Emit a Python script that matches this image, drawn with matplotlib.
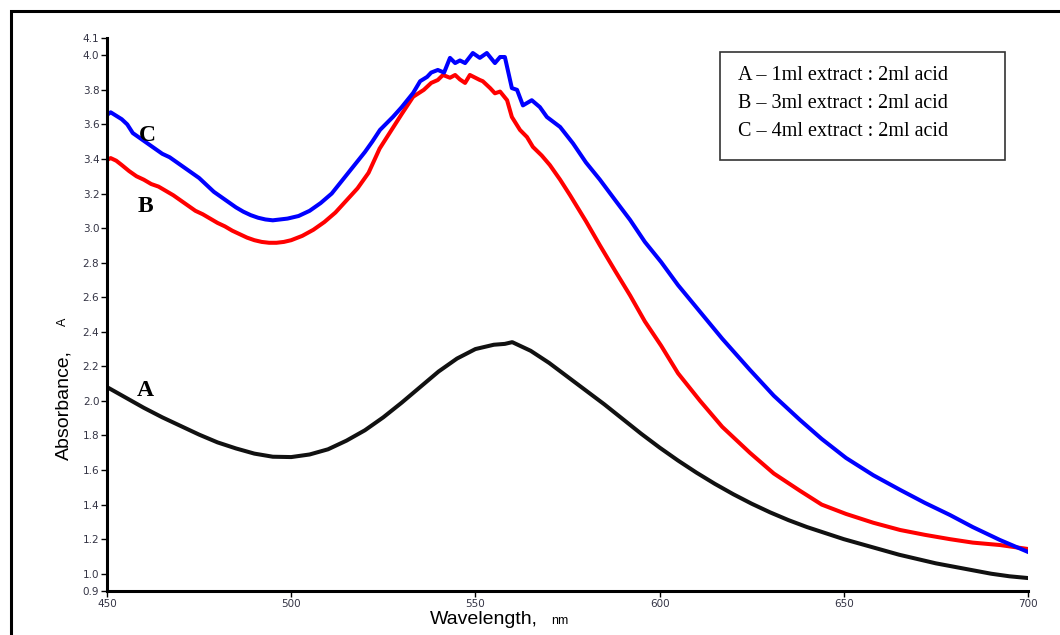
import matplotlib
matplotlib.use("Agg")
import matplotlib.pyplot as plt
from matplotlib.patches import Rectangle

# ---- data (wavelength nm, absorbance) ----
wl_a = [450, 455, 460, 465, 470, 475, 480, 485, 490, 495, 500, 505, 510, 515,
        520, 525, 530, 535, 540, 545, 550, 555, 558, 560, 565, 570, 575, 580,
        585, 590, 595, 600, 605, 610, 615, 620, 625, 630, 635, 640, 645, 650,
        655, 660, 665, 670, 675, 680, 685, 690, 695, 700]
abs_a = [2.08, 2.02, 1.96, 1.905, 1.855, 1.805, 1.76, 1.725, 1.695, 1.677, 1.675,
         1.69, 1.72, 1.77, 1.83, 1.905, 1.99, 2.08, 2.17, 2.245, 2.30, 2.325,
         2.33, 2.34, 2.29, 2.22, 2.14, 2.06, 1.98, 1.895, 1.81, 1.73, 1.655,
         1.585, 1.52, 1.46, 1.405, 1.355, 1.31, 1.27, 1.235, 1.20, 1.17, 1.14,
         1.11, 1.085, 1.06, 1.04, 1.02, 1.0, 0.985, 0.975]

wl_b = [450, 451, 452.5, 454, 456, 458, 460, 462, 464, 466, 468, 470, 472, 474,
        476, 478, 480, 482, 484, 486, 488, 490, 492, 494, 496, 498, 500, 503,
        506, 509, 512, 515, 518, 521, 524, 527, 530, 533.1, 536, 538, 539.8,
        541.2, 543.1, 544.5, 545.8, 547.2, 548.5, 551.2, 552, 554, 555.3, 556.7,
        558.6, 559.9, 562.1, 564, 565.6, 568, 570.2, 573, 575.7, 580, 583.8,
        588, 592, 596, 600.4, 605, 611, 617, 624.5, 631, 638.1, 644, 650.6,
        658, 665.3, 672, 678.8, 685, 692.4, 700]
abs_b = [3.394, 3.405, 3.39, 3.365, 3.33, 3.30, 3.28, 3.255, 3.24, 3.215, 3.19,
         3.16, 3.13, 3.10, 3.08, 3.055, 3.03, 3.01, 2.985, 2.965, 2.945, 2.93,
         2.92, 2.915, 2.915, 2.92, 2.93, 2.955, 2.99, 3.035, 3.09, 3.16, 3.23,
         3.32, 3.46, 3.56, 3.66, 3.76, 3.80, 3.84, 3.857, 3.886, 3.87, 3.886,
         3.86, 3.84, 3.886, 3.857, 3.85, 3.81, 3.78, 3.79, 3.74, 3.643, 3.568,
         3.527, 3.47, 3.42, 3.365, 3.28, 3.19, 3.04, 2.90, 2.75, 2.61, 2.46,
         2.32, 2.16, 2.0, 1.85, 1.70, 1.58, 1.48, 1.40, 1.346, 1.295, 1.253,
         1.225, 1.20, 1.18, 1.166, 1.143]

wl_c = [450, 451, 452.5, 454, 455.5, 457, 459, 461, 463, 465, 467, 469, 471,
        473, 475, 477, 479, 481, 483, 485, 487, 489, 491, 493, 495, 497, 499,
        502, 505, 508, 511, 514, 517, 520, 522, 524.1, 527.6, 530, 533.1, 535,
        536.9, 538, 539.8, 541.5, 543.1, 544.5, 545.8, 547.2, 549.3, 551.2,
        553.1, 555.3, 556.7, 558.0, 559.9, 561.3, 562.9, 565.3, 567.5, 569.4,
        573.0, 576.5, 580, 583.8, 588, 592, 596, 600.4, 605, 611, 617, 624.5,
        631, 638.1, 644, 650.6, 658, 665.3, 672, 678.8, 685, 692.4, 700]
abs_c = [3.655, 3.67, 3.65, 3.63, 3.60, 3.55, 3.52, 3.49, 3.46, 3.43, 3.41,
         3.38, 3.35, 3.32, 3.29, 3.25, 3.21, 3.18, 3.15, 3.12, 3.095, 3.075,
         3.06, 3.05, 3.045, 3.05, 3.055, 3.07, 3.10, 3.145, 3.20, 3.28, 3.36,
         3.44, 3.50, 3.568, 3.643, 3.70, 3.782, 3.85, 3.875, 3.90, 3.915, 3.90,
         3.985, 3.955, 3.97, 3.955, 4.013, 3.985, 4.013, 3.955, 3.99, 3.99, 3.81,
         3.80, 3.71, 3.74, 3.70, 3.643, 3.585, 3.49, 3.38, 3.28, 3.16, 3.047,
         2.92, 2.804, 2.67, 2.515, 2.36, 2.18, 2.03, 1.89, 1.78, 1.67, 1.57,
         1.485, 1.41, 1.34, 1.27, 1.195, 1.126]

legend_lines = ["A \u2013 1ml extract : 2ml acid",
                "B \u2013 3ml extract : 2ml acid",
                "C \u2013 4ml extract : 2ml acid"]
yticks = [0.9, 1.0, 1.2, 1.4, 1.6, 1.8, 2.0, 2.2, 2.4, 2.6, 2.8, 3.0,
          3.2, 3.4, 3.6, 3.8, 4.0, 4.1]
xticks = [450, 500, 550, 600, 650, 700]

W, H = 1060, 635
fig = plt.figure(figsize=(W / 100, H / 100), dpi=100)
ax = fig.add_axes([107 / W, 1 - 591 / H, (1028 - 107) / W, (591 - 38) / H])

ax.plot(wl_a, abs_a, color="#111111", lw=2.9, solid_joinstyle="round")
ax.plot(wl_b, abs_b, color="#ff0000", lw=2.9, solid_joinstyle="round")
ax.plot(wl_c, abs_c, color="#0000ff", lw=2.9, solid_joinstyle="round")

ax.set_xlim(450, 700)
ax.set_ylim(0.9, 4.1)
ax.set_xticks(xticks)
ax.set_yticks(yticks)
ax.set_yticklabels([f"{v:.1f}" for v in yticks])
for s in ["top", "right"]:
    ax.spines[s].set_visible(False)
for s in ["left", "bottom"]:
    ax.spines[s].set_linewidth(2.2)
ax.tick_params(axis="both", labelsize=7.5, labelcolor="#333344",
               length=4, width=1, pad=1.5)

# curve labels
for txt, (x, y) in zip(["C", "B", "A"], [(147, 135), (145, 207), (145, 390)]):
    fig.text(x / W, 1 - y / H, txt, ha="center", va="center",
             family="Liberation Serif", weight="bold", fontsize=17)

# axis labels
fig.text(430 / W, 1 - 624 / H, "Wavelength,", family="Liberation Sans",
         fontsize=14, ha="left", va="baseline")
fig.text(551 / W, 1 - 624 / H, "nm", family="Liberation Sans",
         fontsize=9, ha="left", va="baseline")
fig.text(68 / W, 1 - 460 / H, "Absorbance,", family="Liberation Sans",
         fontsize=14, rotation=90, rotation_mode="anchor",
         ha="left", va="baseline")
fig.text(66 / W, 1 - 326 / H, "A", family="Liberation Sans",
         fontsize=9, rotation=90, rotation_mode="anchor",
         ha="left", va="baseline")

# legend box
fig.patches.append(Rectangle((720 / W, 1 - 160 / H), 285 / W, 108 / H,
                             transform=fig.transFigure, fill=False,
                             edgecolor="#333333", lw=1.2))
for i, line in enumerate(legend_lines):
    fig.text(738 / W, 1 - (75 + 28.5 * i) / H, line, family="Liberation Serif",
             fontsize=14.5, ha="left", va="center")

# outer frame
fig.patches.append(Rectangle((11 / W, -0.1), 1.2, 1.1 - 11 / H,
                             transform=fig.transFigure, fill=False,
                             edgecolor="black", lw=2.2))

fig.savefig("out.png", dpi=100)
